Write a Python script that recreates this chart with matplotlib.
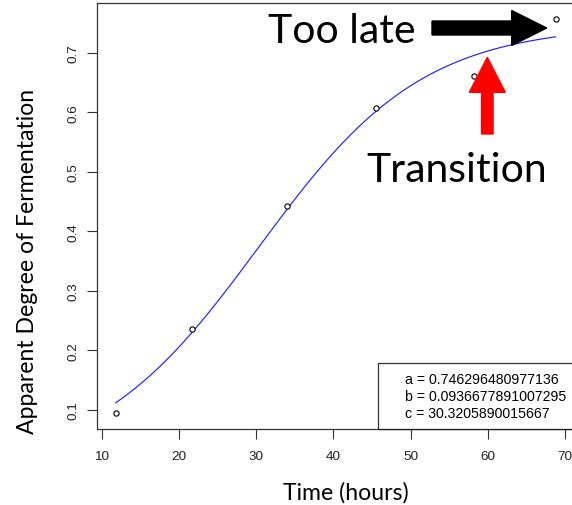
import matplotlib
matplotlib.use("Agg")
import matplotlib.pyplot as plt
import numpy as np
from matplotlib.lines import Line2D
from matplotlib.patches import FancyArrow

# Observed data
time_hours = [11.8, 21.7, 34.0, 45.5, 58.2, 68.8]
adf = [0.095, 0.236, 0.443, 0.607, 0.660, 0.757]

# Fitted logistic parameters (shown in legend)
a = 0.746296480977136
b = 0.0936677891007295
c = 30.3205890015667

x_ticks = [10, 20, 30, 40, 50, 60, 70]
y_ticks = [0.1, 0.2, 0.3, 0.4, 0.5, 0.6, 0.7]

W, H = 572, 506
fig = plt.figure(figsize=(W / 100, H / 100), dpi=100)

left, right, bottom, top = 97.2, 575.0, 429.7, 4.2
ax = fig.add_axes([left / W, 1 - bottom / H, (right - left) / W, (bottom - top) / H])

xs = np.linspace(min(time_hours), max(time_hours), 200)
ys = a / (1 + np.exp(-b * (xs - c)))
ax.plot(xs, ys, color="#2020ff", lw=0.85)
ax.plot(time_hours, adf, linestyle="none", marker="o", ms=3.8,
        mfc="white", mec="black", mew=0.8)

ax.set_xlim(9.41, 71.3)
ax.set_ylim(0.0685, 0.783)
ax.set_xticks(x_ticks)
ax.set_yticks(y_ticks)
ax.set_xticklabels([str(v) for v in x_ticks], family="Liberation Sans", fontsize=9.7)
ax.set_yticklabels([f"{v:.1f}" for v in y_ticks], family="Liberation Sans", fontsize=9.7,
                   rotation=90, va="center")
ax.tick_params(axis="x", length=7, width=0.8, pad=8.5, colors="#333333", labelcolor="#222222")
ax.tick_params(axis="y", length=7, width=0.8, pad=5.5, colors="#333333", labelcolor="#222222")
for s in ax.spines.values():
    s.set_linewidth(0.9)
    s.set_color("#333333")

handles = [Line2D([], [], linestyle="none") for _ in range(3)]
labels = [f"a = {a!r}", f"b = {b!r}", f"c = {c!r}"]
leg = ax.legend(handles, labels, loc="lower right", borderaxespad=0, frameon=True,
                fancybox=False, edgecolor="black", handlelength=1.0, handletextpad=0.33,
                borderpad=0.6, labelspacing=0.22,
                prop={"family": "Liberation Sans", "size": 10.2})
leg.get_frame().set_linewidth(0.9)

# Axis titles
fig.text(346 / W, 1 - 500 / H, "Time (hours)", family="Lato", fontsize=16.6,
         ha="center", va="baseline")
fig.text(28 / W, 1 - 261 / H, "Apparent Degree of Fermentation", family="Lato",
         fontsize=16.6, rotation=90, ha="center", va="center")

# Annotations
fig.text(268 / W, 1 - 43 / H, "Too late", family="Lato", fontsize=29.5, ha="left", va="baseline")
fig.text(366 / W, 1 - 182 / H, "Transition", family="Lato", fontsize=29.5, ha="left", va="baseline")

tr = fig.dpi_scale_trans
fig.patches.append(FancyArrow(4.32, (H - 29) / 100, 5.467 - 4.32, 0, width=0.14,
                              head_width=0.35, head_length=0.35, length_includes_head=True,
                              color="black", transform=tr, figure=fig))
fig.patches.append(FancyArrow(4.873, (H - 135) / 100, 0, (135 - 58.3) / 100, width=0.115,
                              head_width=0.36, head_length=0.35, length_includes_head=True,
                              color="red", transform=tr, figure=fig))

fig.savefig("out.png", dpi=100)
